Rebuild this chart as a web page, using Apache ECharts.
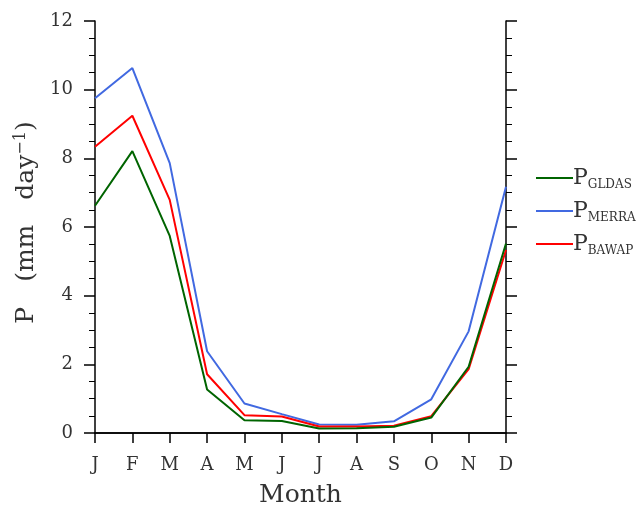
<!DOCTYPE html>
<html>
<head>
<meta charset="utf-8">
<script src="https://cdn.jsdelivr.net/npm/echarts@6/dist/echarts.min.js"></script>
<style>
  html, body { margin: 0; padding: 0; background: #fff; }
  #main { width: 641px; height: 506px; }
</style>
</head>
<body>
<div id="main"></div>
<script>
// monthly precipitation (mm/day)
var months = ['J', 'F', 'M', 'A', 'M', 'J', 'J', 'A', 'S', 'O', 'N', 'D'];
var gldas = [6.62, 8.21, 5.74, 1.27, 0.37, 0.35, 0.13, 0.14, 0.18, 0.45, 1.93, 5.52];
var merra = [9.75, 10.63, 7.86, 2.38, 0.86, 0.55, 0.25, 0.24, 0.34, 0.98, 2.96, 7.17];
var bawap = [8.34, 9.24, 6.79, 1.71, 0.52, 0.48, 0.19, 0.19, 0.21, 0.49, 1.86, 5.33];
var yTicks = [0, 2, 4, 6, 8, 10, 12];

var font = 'DejaVu Serif';
var ink = '#333';

var chart = echarts.init(document.getElementById('main'), null, { renderer: 'canvas' });

function mkLine(name, data, color) {
    return {
        name: name,
        type: 'line',
        data: data,
        symbol: 'none',
        lineStyle: { color: color, width: 2 },
        itemStyle: { color: color },
        z: name == 'GLDAS' ? 3 : 2
    };
}

var option = {
    backgroundColor: '#fff',
    animation: false,
    grid: { left: 95, right: 135, top: 21, bottom: 73, outerBoundsMode: 'none' },
    legend: {
        orient: 'vertical',
        left: 536,
        top: 166,
        padding: 0,
        icon: 'rect',
        itemWidth: 37,
        itemHeight: 2,
        itemGap: 8,
        data: ['GLDAS', 'MERRA', 'BAWAP'],
        formatter: function (n) { return '{p|P}{s|' + n + '}'; },
        textStyle: {
            padding: [0, 0, 0, -5],
            rich: {
                p: { fontFamily: font, fontSize: 22, color: ink, lineHeight: 26, verticalAlign: 'middle' },
                s: { fontFamily: font, fontSize: 12, color: ink, lineHeight: 26, verticalAlign: 'bottom', padding: [13, 0, 0, 0] }
            }
        }
    },
    xAxis: [{
        type: 'category',
        data: months,
        boundaryGap: false,
        name: 'Month',
        nameLocation: 'middle',
        nameGap: 50,
        nameTextStyle: { fontFamily: font, fontSize: 25, color: ink },
        axisLine: { lineStyle: { color: '#000', width: 1.5 } },
        axisTick: { inside: false, length: 10, lineStyle: { color: '#000', width: 1.5 } },
        axisLabel: { fontFamily: font, fontSize: 18, color: ink, margin: 23 },
        splitLine: { show: false }
    }, {
        type: 'category',
        data: months,
        position: 'top',
        boundaryGap: false,
        axisLine: { lineStyle: { color: '#000', width: 1.5 } },
        axisTick: { show: false },
        axisLabel: { show: false }
    }],
    yAxis: [{
        type: 'value',
        min: 0,
        max: 12,
        interval: 2,
        name: '{a|P\u2003(mm\u2003day}{sup|\u22121}{a|)}',
        nameLocation: 'middle',
        nameGap: 56,
        nameTextStyle: {
            padding: [0, 0, 0, 9],
            rich: {
                a: { fontFamily: font, fontSize: 25, color: ink },
                sup: { fontFamily: font, fontSize: 16, color: ink, verticalAlign: 'top', padding: [0, 0, 10, 0] }
            }
        },
        axisLine: { show: true, lineStyle: { color: '#000', width: 1.5 } },
        axisTick: { show: true, inside: false, length: 11, lineStyle: { color: '#000', width: 1.5 } },
        minorTick: { show: true, splitNumber: 4, length: 6, lineStyle: { color: '#000', width: 1 } },
        axisLabel: {
            fontFamily: font, fontSize: 18, color: ink, margin: 22,
            formatter: function (v) { return yTicks.indexOf(v) >= 0 ? String(v) : ''; }
        },
        splitLine: { show: false }
    }, {
        type: 'value',
        min: 0,
        max: 12,
        interval: 2,
        position: 'right',
        axisLine: { show: true, lineStyle: { color: '#000', width: 1.5 } },
        axisTick: { show: true, inside: false, length: 11, lineStyle: { color: '#000', width: 1.5 } },
        minorTick: { show: true, splitNumber: 4, length: 6, lineStyle: { color: '#000', width: 1 } },
        axisLabel: { show: false },
        splitLine: { show: false }
    }],
    series: [
        mkLine('GLDAS', gldas, '#006400'),
        mkLine('MERRA', merra, '#4169E1'),
        mkLine('BAWAP', bawap, '#FF0000')
    ]
};

chart.setOption(option);
</script>
</body>
</html>
